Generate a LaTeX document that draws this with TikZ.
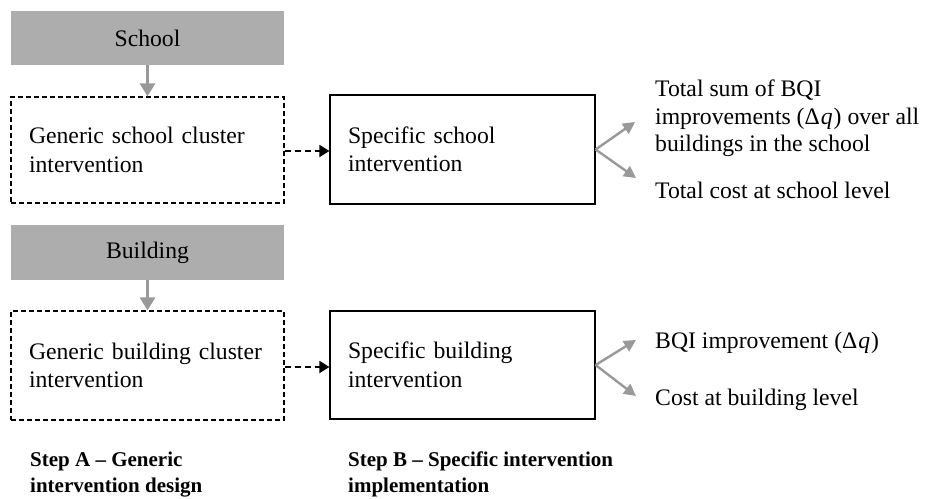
\documentclass[tikz,border=0pt]{standalone}
\usepackage{fontspec}
\setmainfont{Liberation Serif}
\usetikzlibrary{arrows.meta}
\definecolor{boxgray}{HTML}{ADADAD}
\definecolor{arrgray}{HTML}{999999}
\begin{document}
\begin{tikzpicture}[x=1pt,y=-1pt,
  every node/.style={font=\fontsize{23.7}{28.5}\selectfont},
  levelbox/.style={fill=boxgray,draw=none,minimum width=273pt,minimum height=#1,inner sep=0pt},
  genbox/.style={draw=black,line width=1.2pt,dash pattern=on 5pt off 3pt,minimum width=273pt,minimum height=#1,
     text width=237pt,inner xsep=18pt,inner ysep=0pt,align=left},
  specbox/.style={draw=black,line width=1.2pt,minimum width=265pt,minimum height=#1,
     text width=229pt,inner xsep=18pt,inner ysep=0pt,align=left},
  outtext/.style={anchor=base west,inner sep=0pt},
  steptext/.style={anchor=base west,inner sep=0pt,font=\fontsize{21}{27.5}\selectfont\bfseries},
  grayarrow/.style={draw=arrgray,line width=3pt,-{Triangle[length=13pt,width=15pt]}},
  outarrow/.style={draw=arrgray,line width=2.4pt,-{Triangle[length=12pt,width=12pt]}},
  dasharrow/.style={draw=black,line width=1.8pt,dash pattern=on 6pt off 4pt,-{Triangle[length=10pt,width=12pt]}}
]
\useasboundingbox (0,0) rectangle (926,498);

% top row
\node[levelbox=54pt] (school) at (147.5,38) {School};
\node[genbox=106pt] (gen1) at (147.5,150) {Generic school cluster\\intervention};
\node[specbox=109pt] (spec1) at (462.5,149.5) {Specific school\\intervention};

\draw[grayarrow] (school.south) -- (gen1.north);
\draw[dasharrow] (gen1.east |- 0,151) -- (spec1.west |- 0,151);

\coordinate (s1up) at (635,122);
\coordinate (s1dn) at (636,178);
\draw[outarrow] (spec1.east) -- (s1up);
\draw[outarrow] (spec1.east) -- (s1dn);

\node[outtext] (t1a) at (655,96) {Total sum of BQI};
\node[outtext] (t1b) at (655,124) {improvements (Δ\kern1pt\textit{q}\kern1pt) over all};
\node[outtext] (t1c) at (655,151) {buildings in the school};
\node[outtext] (t1d) at (655,198) {Total cost at school level};

% bottom row
\node[levelbox=55pt] (building) at (147.5,252.5) {Building};
\node[genbox=109pt] (gen2) at (147.5,365.5) {Generic building cluster\\intervention};
\node[specbox=108pt] (spec2) at (462.5,365) {Specific building\\intervention};

\draw[grayarrow] (building.south) -- (gen2.north);
\draw[dasharrow] (gen2.east |- 0,367) -- (spec2.west |- 0,367);

\coordinate (s2up) at (636,340);
\coordinate (s2dn) at (636,396);
\draw[outarrow] (spec2.east) -- (s2up);
\draw[outarrow] (spec2.east) -- (s2dn);

\node[outtext] (t2a) at (655,348) {BQI improvement (Δ\kern1pt\textit{q}\kern1pt)};
\node[outtext] (t2b) at (655,405) {Cost at building level};

% step labels
\node[steptext] (stepA1) at (30,466) {Step A – Generic};
\node[steptext] (stepA2) at (30,492) {intervention design};
\node[steptext] (stepB1) at (348,466) {Step B – Specific intervention};
\node[steptext] (stepB2) at (348,492) {implementation};
\end{tikzpicture}
\end{document}
